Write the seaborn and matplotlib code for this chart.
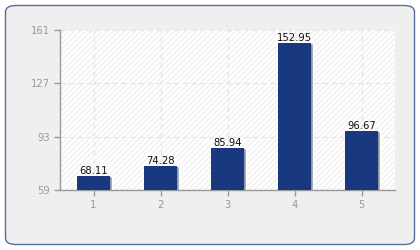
import matplotlib
matplotlib.use("Agg")
import matplotlib.pyplot as plt
import seaborn as sns
import pandas as pd
from matplotlib.patches import FancyBboxPatch, Rectangle

categories = ["1", "2", "3", "4", "5"]
values = [68.11, 74.28, 85.94, 152.95, 96.67]
yticks = [59, 93, 127, 161]

sns.set_theme(style="white")
plt.rcParams['font.family'] = ['DejaVu Sans']

df = pd.DataFrame({"cat": categories, "val": values})

fig = plt.figure(figsize=(4.2, 2.5), dpi=100)
fig.patch.set_facecolor("white")
box = FancyBboxPatch((5.5/420, 5.5/250), 409/420, 239/250,
                     boxstyle="round,pad=0,rounding_size=0.025",
                     transform=fig.transFigure, facecolor="#efefef",
                     edgecolor="#5b6b9b", linewidth=1.0, zorder=-10)
fig.patches.append(box)

ax = fig.add_axes([60/420, 60/250, 335/420, 160/250])
ax.set_zorder(1)
ax.set_facecolor("white")
ax.add_patch(Rectangle((0, 0), 1, 1, transform=ax.transAxes, facecolor="white",
                       edgecolor="#f1f1f1", hatch="//////", linewidth=0, zorder=0))

sns.barplot(data=df, x="cat", y="val", color="#1a3880", width=0.5,
            saturation=1, ax=ax, zorder=3, edgecolor="none")
# subtle shadow
for i, v in enumerate(values):
    ax.bar(i + 0.02, v - 59, bottom=59, width=0.5, color="#9098a8", zorder=2)

for i, v in enumerate(values):
    ax.text(i, v, f"{v:.2f}", ha="center", va="bottom", fontsize=7.2,
            color="#111111", zorder=4)

ax.set_ylim(59, 161)
ax.set_xlim(-0.5, 4.5)
ax.set_yticks(yticks)
ax.set_yticklabels([str(t) for t in yticks])
ax.set_xlabel("")
ax.set_ylabel("")
ax.grid(True, axis="both", color="#e4e4e4", linestyle=(0, (4, 3)), linewidth=0.9, zorder=1)
ax.set_axisbelow(True)
for s in ["top", "right"]:
    ax.spines[s].set_visible(False)
for s in ["left", "bottom"]:
    ax.spines[s].set_color("#999999")
    ax.spines[s].set_linewidth(1.0)
ax.tick_params(axis="both", colors="#999999", labelcolor="#999999", labelsize=7.2,
               length=4, width=1, direction="out", left=True, bottom=True, pad=3)

fig.savefig("out.png", dpi=100)
